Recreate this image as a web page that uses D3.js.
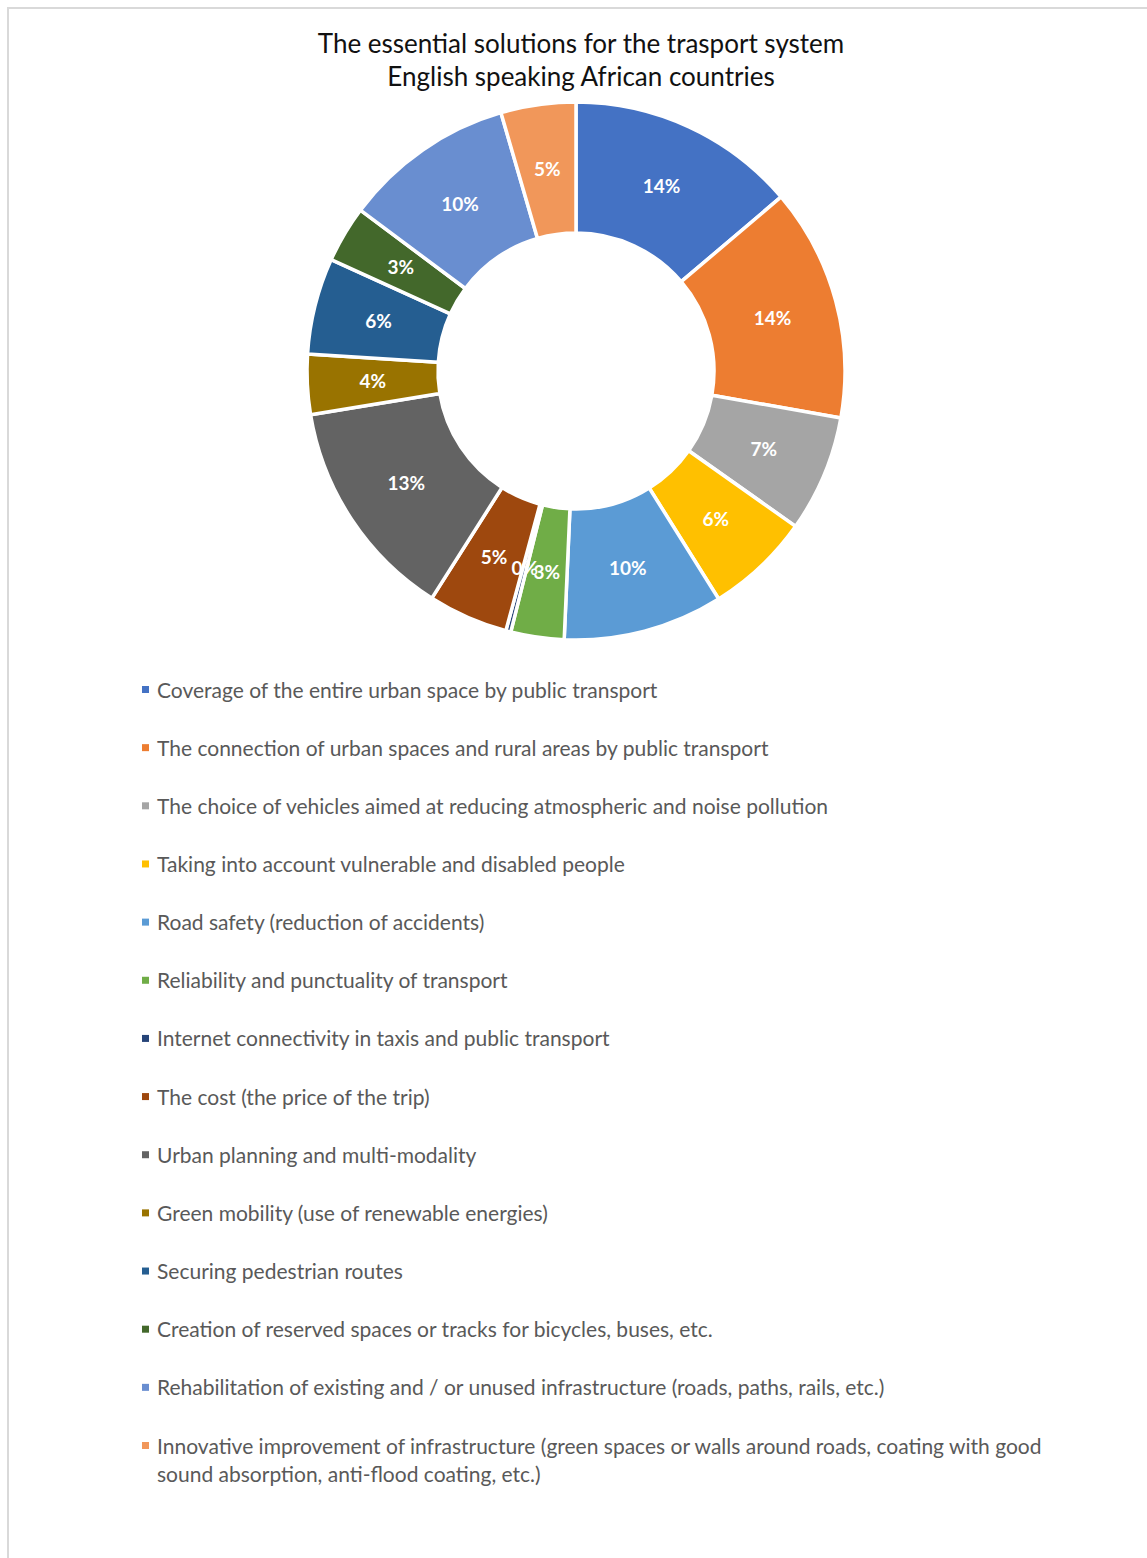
<!DOCTYPE html>
<html>
<head>
<meta charset="UTF-8">
<title>Essential solutions for the transport system</title>
<script src="https://d3js.org/d3.v7.min.js"></script>
<style>
  body { margin: 0; background: #fff; }
  svg { display: block; font-family: Lato, "Open Sans", sans-serif; }
</style>
</head>
<body>
<svg id="chart" width="1147" height="1558"></svg>
<script>
// data (share of answers, %)
var categories = [
  "Coverage of the entire urban space by public transport",
  "The connection of urban spaces and rural areas by public transport",
  "The choice of vehicles aimed at reducing atmospheric and noise pollution",
  "Taking into account vulnerable and disabled people",
  "Road safety (reduction of accidents)",
  "Reliability and punctuality of transport",
  "Internet connectivity in taxis and public transport",
  "The cost (the price of the trip)",
  "Urban planning and multi-modality",
  "Green mobility (use of renewable energies)",
  "Securing pedestrian routes",
  "Creation of reserved spaces or tracks for bicycles, buses, etc.",
  "Rehabilitation of existing and / or unused infrastructure (roads, paths, rails, etc.)",
  "Innovative improvement of infrastructure (green spaces or walls around roads, coating with good sound absorption, anti-flood coating, etc.)"
];
var values = [13.8, 14.0, 7.0, 6.3, 9.6, 3.2, 0.3, 4.8, 13.4, 3.6, 5.8, 3.4, 10.3, 4.5];
var colors = ["#4472C4", "#ED7D31", "#A5A5A5", "#FFC000", "#5B9BD5", "#70AD47", "#264478",
              "#9E480E", "#636363", "#997300", "#255E91", "#43682B", "#698ED0", "#F1975A"];
var titleLines = ["The essential solutions for the trasport system", "English speaking African countries"];

var svg = d3.select("#chart");

// light frame of the page
svg.append("path")
  .attr("d", "M8,1558 V8 H1147")
  .attr("fill", "none")
  .attr("stroke", "#d9d9d9")
  .attr("stroke-width", 2);

// title
svg.append("g").selectAll("text")
  .data(titleLines)
  .join("text")
  .attr("x", 581)
  .attr("y", function(d, i) { return 53 + i * 33; })
  .attr("text-anchor", "middle")
  .attr("font-size", 26)
  .attr("fill", "#111")
  .text(function(d) { return d; });

// donut
var cx = 576, cy = 371, outerR = 269, innerR = 138;
var pie = d3.pie().sort(null).value(function(d) { return d; });
var arc = d3.arc().innerRadius(innerR).outerRadius(outerR);
var labelArc = d3.arc().innerRadius((innerR + outerR) / 2).outerRadius((innerR + outerR) / 2);
var arcs = pie(values);

var donut = svg.append("g").attr("transform", "translate(" + cx + "," + cy + ")");
donut.selectAll("path")
  .data(arcs)
  .join("path")
  .attr("d", arc)
  .attr("fill", function(d, i) { return colors[i]; })
  .attr("stroke", "#fff")
  .attr("stroke-width", 3.5)
  .attr("stroke-linejoin", "round");

donut.selectAll("text")
  .data(arcs)
  .join("text")
  .attr("transform", function(d) { return "translate(" + labelArc.centroid(d) + ")"; })
  .attr("text-anchor", "middle")
  .attr("dy", "0.36em")
  .attr("font-size", 19)
  .attr("font-weight", "bold")
  .attr("fill", "#fff")
  .text(function(d) { return Math.round(d.data) + "%"; });

// legend
var legendY = d3.scalePoint().domain(d3.range(categories.length)).range([690, 1446]);
var legend = svg.append("g");
var items = legend.selectAll("g")
  .data(categories)
  .join("g")
  .attr("transform", function(d, i) { return "translate(0," + legendY(i) + ")"; });

items.append("rect")
  .attr("x", 142)
  .attr("y", -4)
  .attr("width", 7)
  .attr("height", 7)
  .attr("fill", function(d, i) { return colors[i]; });

items.append("text")
  .attr("x", 157)
  .attr("font-size", 21)
  .attr("fill", "#595959")
  .each(function(d) {
    var el = d3.select(this), words = d.split(" "), line = [];
    var tspan = el.append("tspan").attr("x", 157).attr("dy", "0.36em");
    words.forEach(function(w) {
      line.push(w);
      tspan.text(line.join(" "));
      if (tspan.node().getComputedTextLength() > 905 && line.length > 1) {
        line.pop();
        tspan.text(line.join(" "));
        line = [w];
        tspan = el.append("tspan").attr("x", 157).attr("dy", "28px").text(w);
      }
    });
  });
</script>
</body>
</html>
